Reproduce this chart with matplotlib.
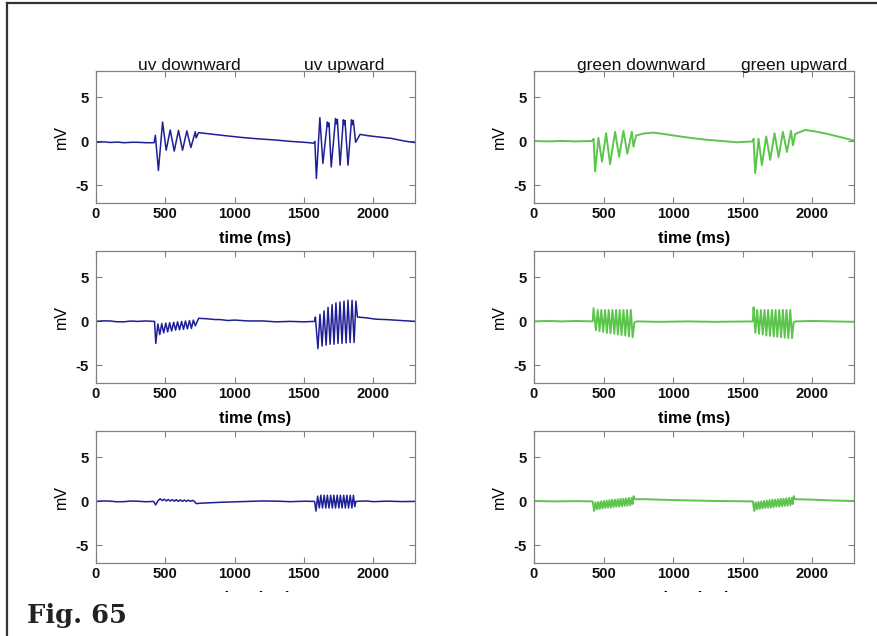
import matplotlib
matplotlib.use("Agg")
import matplotlib.pyplot as plt
from matplotlib.patches import Rectangle
from matplotlib.lines import Line2D

plt.rcParams["axes.unicode_minus"] = False

# ---------------- data (time ms, voltage mV) ----------------
UV_ROW1 = [(0, -0.1), (60, -0.05), (100, -0.12), (160, -0.08), (200, -0.15), (260, -0.1), (300, -0.1),
           (360, -0.15), (419, -0.15), (428, 0.7), (450, -3.3),
           (480, 2.2), (506, -1.0), (535, 1.3), (564, -1.1), (595, 1.25), (624, -1.0), (655, 1.2),
           (684, -0.7), (716, 1.1), (722, 0.4), (740, 1.0), (820, 0.85), (920, 0.67), (1050, 0.45),
           (1162, 0.3), (1300, 0.15), (1403, 0.0), (1500, -0.1), (1571, -0.2), (1578, 0.0),
           (1589, -4.2), (1614, 2.7), (1636, -2.5), (1668, 2.2), (1674, 1.7), (1680, 2.1), (1696, -2.9),
           (1727, 2.6), (1733, 2.0), (1740, 2.5), (1760, -2.7), (1783, 2.45), (1789, 1.9), (1795, 2.4),
           (1817, -2.7), (1842, 2.45), (1848, 1.9), (1855, 2.4), (1872, -0.1), (1904, 0.8),
           (1960, 0.65), (2040, 0.5), (2126, 0.35), (2220, 0.05), (2306, -0.15)]

GREEN_ROW1 = [(0, 0.05), (100, 0.0), (200, 0.05), (300, 0.0), (422, 0.05), (428, 0.3), (439, -3.4),
              (463, 0.4), (489, -2.3), (518, 0.93), (547, -2.6), (583, 1.1), (612, -1.76), (643, 1.2),
              (671, -1.4), (703, 1.1), (715, -0.6), (734, 0.67), (790, 0.9), (858, 1.0), (950, 0.8),
              (1050, 0.56), (1150, 0.35), (1242, 0.18), (1350, 0.05), (1458, -0.1), (1573, 0.0),
              (1578, 0.3), (1590, -3.6), (1614, 0.3), (1638, -2.7), (1669, 0.56), (1698, -2.1),
              (1729, 0.93), (1758, -1.8), (1789, 1.08), (1818, -1.2), (1847, 1.2), (1861, -0.45),
              (1878, 0.86), (1950, 1.3), (2030, 1.1), (2106, 0.86), (2225, 0.4), (2300, 0.1)]

UV_ROW2 = [(0, 0.0), (50, 0.06), (100, 0.05), (150, -0.04), (200, -0.05), (250, 0.04), (300, 0.0),
           (360, 0.05), (422, 0.0), (431, -2.5), (446, -0.3),
           (460, -1.5), (474, -0.25), (488, -1.3), (503, -0.2), (517, -1.2), (531, -0.15), (545, -1.1),
           (560, -0.1), (574, -1.0), (588, -0.05), (602, -0.95), (617, 0.0), (631, -0.9), (645, 0.05),
           (659, -0.85), (674, 0.1), (688, -0.8), (702, 0.15), (716, -0.5), (740, 0.35), (800, 0.3),
           (850, 0.22), (900, 0.2), (950, 0.1), (1000, 0.15), (1100, 0.05), (1200, 0.05), (1300, -0.05),
           (1400, 0.0), (1500, -0.05), (1576, 0.0), (1582, 0.5),
           (1600, -3.1), (1615, 0.8), (1630, -2.8), (1644, 1.2), (1659, -2.7), (1673, 1.6),
           (1688, -2.6), (1702, 1.9), (1716, -2.6), (1730, 2.1), (1745, -2.5), (1759, 2.2),
           (1774, -2.5), (1788, 2.3), (1803, -2.45), (1817, 2.4), (1832, -2.4), (1846, 2.4),
           (1861, -2.4), (1874, 2.3), (1885, 0.5), (1950, 0.4), (2020, 0.25), (2100, 0.2),
           (2200, 0.1), (2250, 0.05), (2306, 0.0)]

GREEN_ROW2 = [(0, 0.0), (100, 0.05), (200, 0.0), (300, 0.05), (422, 0.0), (428, 1.5), (445, -1.0),
              (458, 1.3), (471, -1.1), (484, 1.3), (497, -1.2), (511, 1.3), (524, -1.3), (537, 1.3),
              (550, -1.35), (564, 1.3), (577, -1.4), (590, 1.3), (603, -1.5), (616, 1.3), (629, -1.55),
              (643, 1.3), (656, -1.6), (669, 1.3), (682, -1.7), (696, 1.3), (709, -1.8), (722, -0.1),
              (740, 0.0), (900, -0.05), (1100, 0.0), (1300, -0.05), (1573, 0.0), (1578, 1.6),
              (1591, -1.3), (1604, 1.3), (1617, -1.4), (1631, 1.3), (1644, -1.5), (1657, 1.3),
              (1670, -1.6), (1683, 1.3), (1696, -1.65), (1710, 1.3), (1723, -1.7), (1736, 1.3),
              (1749, -1.75), (1763, 1.3), (1776, -1.8), (1789, 1.3), (1802, -1.85), (1815, 1.3),
              (1828, -1.9), (1842, 1.3), (1855, -1.9), (1866, -0.1), (1880, 0.0), (2000, 0.05),
              (2150, 0.0), (2300, -0.05)]

UV_ROW3 = [(0, 0.0), (50, 0.05), (100, 0.03), (150, -0.04), (200, -0.03), (250, 0.04), (300, 0.02),
           (360, -0.04), (415, 0.0), (430, -0.4), (448, 0.1),
           (463, 0.3), (478, 0.1), (492, 0.25), (507, 0.05), (521, 0.22), (536, 0.05), (550, 0.2),
           (565, 0.02), (579, 0.2), (594, 0.0), (608, 0.18), (623, 0.0), (637, 0.15), (652, 0.0),
           (666, 0.15), (681, 0.0), (695, 0.12), (710, 0.0), (722, -0.25), (760, -0.2), (900, -0.1),
           (1000, -0.05), (1100, 0.0), (1200, 0.05), (1300, 0.03), (1400, -0.03), (1500, 0.02),
           (1576, 0.0), (1586, -1.1), (1598, 0.6), (1610, -0.75),
           (1621, 0.7), (1633, -0.75), (1645, 0.7), (1657, -0.75), (1668, 0.7), (1680, -0.75),
           (1692, 0.7), (1704, -0.75), (1715, 0.7), (1727, -0.75), (1739, 0.7), (1751, -0.75),
           (1762, 0.7), (1774, -0.75), (1786, 0.7), (1798, -0.75), (1809, 0.7), (1821, -0.75),
           (1833, 0.7), (1845, -0.75), (1856, 0.7), (1866, -0.6), (1874, 0.0), (1950, 0.05),
           (2000, -0.03), (2100, 0.03), (2200, -0.02), (2306, 0.0)]

GREEN_ROW3 = [(0, 0.05), (150, 0.0), (300, 0.03), (422, 0.0), (432, -1.1), (442, -0.1), (452, -0.9),
              (462, -0.05), (472, -0.85), (482, 0.0), (492, -0.8), (502, 0.05), (512, -0.75),
              (522, 0.1), (532, -0.7), (542, 0.15), (552, -0.7), (562, 0.2), (572, -0.65), (582, 0.2),
              (592, -0.6), (602, 0.25), (612, -0.6), (622, 0.3), (632, -0.55), (642, 0.3), (652, -0.5),
              (662, 0.35), (672, -0.5), (682, 0.4), (692, -0.45), (702, 0.4), (709, -0.3), (716, 0.6),
              (724, 0.25), (800, 0.25), (1000, 0.15), (1300, 0.05), (1573, 0.0), (1583, -1.1),
              (1593, -0.1), (1603, -0.9), (1613, -0.05), (1623, -0.85), (1633, 0.0), (1643, -0.8),
              (1653, 0.05), (1663, -0.75), (1673, 0.1), (1683, -0.7), (1693, 0.15), (1703, -0.7),
              (1713, 0.2), (1723, -0.65), (1733, 0.2), (1743, -0.6), (1753, 0.25), (1763, -0.6),
              (1773, 0.3), (1783, -0.55), (1793, 0.3), (1803, -0.5), (1813, 0.35), (1823, -0.5),
              (1833, 0.4), (1843, -0.45), (1853, 0.4), (1860, -0.3), (1867, 0.6), (1875, 0.25),
              (2000, 0.2), (2150, 0.1), (2300, 0.05)]

X_TICKS = [0, 500, 1000, 1500, 2000]
Y_TICKS = [-5, 0, 5]
TITLES = ["uv downward", "uv upward", "green downward", "green upward"]
X_LABEL = "time (ms)"
Y_LABEL = "mV"
FIG_LABEL = "Fig. 65"

BLUE = "#1f1f96"
GREEN = "#5cc54c"
GRAY = "#808080"

W, H = 878, 636
fig = plt.figure(figsize=(W / 100, H / 100), dpi=100)
fig.patch.set_facecolor("white")


def px_rect(x0, y0, x1, y1):
    return [x0 / W, 1 - y1 / H, (x1 - x0) / W, (y1 - y0) / H]


col_x = [(96, 415), (534, 854)]
row_y = [(71, 203), (251, 383), (431, 563)]
panels = [[UV_ROW1, GREEN_ROW1], [UV_ROW2, GREEN_ROW2], [UV_ROW3, GREEN_ROW3]]
colors = [BLUE, GREEN]

for r, (y0, y1) in enumerate(row_y):
    for c, (x0, x1) in enumerate(col_x):
        ax = fig.add_axes(px_rect(x0, y0, x1, y1))
        data = panels[r][c]
        t = [p[0] for p in data]
        v = [p[1] for p in data]
        ax.plot(t, v, color=colors[c], lw=1.1 if c == 0 else 1.4)
        ax.set_xlim(0, 2300)
        ax.set_ylim(-7, 8)
        ax.set_xticks(X_TICKS)
        ax.set_yticks(Y_TICKS)
        ax.tick_params(direction="in", top=True, right=True, length=4, width=0.8,
                       color=GRAY, labelsize=10.7, labelcolor="#111111")
        ax.tick_params(axis="x", pad=3)
        ax.tick_params(axis="y", pad=5)
        for lab in ax.get_xticklabels() + ax.get_yticklabels():
            lab.set_fontfamily("Liberation Sans")
            lab.set_fontweight("bold")
        for s in ax.spines.values():
            s.set_color(GRAY)
            s.set_linewidth(0.9)
        ax.set_xlabel(X_LABEL, fontsize=11.7, fontweight="bold", family="Liberation Sans", labelpad=7)
        ax.set_ylabel(Y_LABEL, fontsize=11.5, family="Liberation Sans", labelpad=5)

# titles above the first row
title_pos = [(189, TITLES[0]), (344, TITLES[1]), (641, TITLES[2]), (794, TITLES[3])]
for x, s in title_pos:
    fig.text(x / W, 1 - 70 / H, s, ha="center", va="baseline", fontsize=12.5,
             family="Liberation Sans", color="#111111")

# white box covering the bottom, and the figure caption
fig.add_artist(Rectangle((8 / W, 0), 1, 1 - 592 / H, transform=fig.transFigure,
                         facecolor="white", edgecolor="none", zorder=5))
fig.text(27 / W, 1 - 623 / H, FIG_LABEL, ha="left", va="baseline", fontsize=18.5,
         fontweight="bold", family="DejaVu Serif", color="#222222", zorder=6)

# frame lines (left and top)
fig.add_artist(Line2D([7 / W, 7 / W], [0, 1 - 3 / H], transform=fig.transFigure,
                      color="#333333", lw=1.6, zorder=7))
fig.add_artist(Line2D([7 / W, 1], [1 - 3 / H, 1 - 3 / H], transform=fig.transFigure,
                      color="#333333", lw=1.6, zorder=7))

fig.savefig("out.png", dpi=100, facecolor="white")
